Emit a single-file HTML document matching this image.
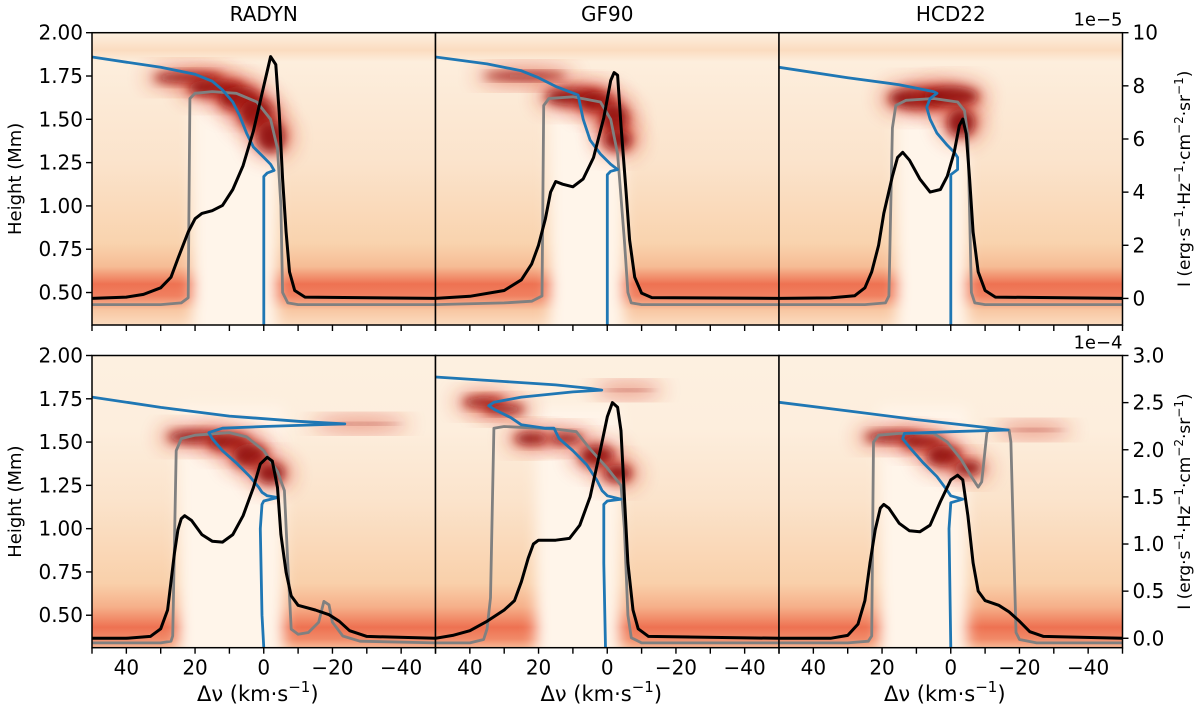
<!DOCTYPE html>
<html><head><meta charset="utf-8"><style>
html,body{margin:0;padding:0;background:#fff;width:1200px;height:711px;overflow:hidden}
svg{font-family:"DejaVu Sans","Liberation Sans",sans-serif}
</style></head><body>
<svg id="fig" width="1200" height="711" viewBox="0 0 1200 711" xmlns="http://www.w3.org/2000/svg">
<defs>
<filter id="blur" x="-50%" y="-50%" width="200%" height="200%"><feGaussianBlur stdDeviation="10"/></filter>
<filter id="blur2" x="-50%" y="-50%" width="200%" height="200%"><feGaussianBlur stdDeviation="5"/></filter>
<filter id="blurc" x="-50%" y="-50%" width="200%" height="200%"><feGaussianBlur stdDeviation="7"/></filter>
<linearGradient id="bgTop" x1="0" y1="0" x2="0" y2="1">
<stop offset="0" stop-color="#fdf0e0"/><stop offset="0.06" stop-color="#fbdcc0"/><stop offset="0.1" stop-color="#fdeedd"/>
<stop offset="0.45" stop-color="#fbe3cb"/><stop offset="0.72" stop-color="#f9d3ae"/><stop offset="0.8" stop-color="#f6bc95"/>
<stop offset="0.86" stop-color="#ee7252"/><stop offset="0.9" stop-color="#f08060"/><stop offset="0.95" stop-color="#f8c7a3"/><stop offset="1" stop-color="#fbdcc0"/>
</linearGradient>
<linearGradient id="bgBot" x1="0" y1="0" x2="0" y2="1">
<stop offset="0" stop-color="#fdf0e0"/><stop offset="0.25" stop-color="#fdeedd"/>
<stop offset="0.5" stop-color="#fbe3cb"/><stop offset="0.78" stop-color="#f9d0aa"/><stop offset="0.86" stop-color="#f6b08a"/>
<stop offset="0.93" stop-color="#ee7252"/><stop offset="0.97" stop-color="#f18a68"/><stop offset="1" stop-color="#f7b895"/>
</linearGradient>
</defs>
</svg>
<script>
// ---- data ----
const titles = ["RADYN","GF90","HCD22"];
const xTicks = [50,40,30,20,10,0,-10,-20,-30,-40,-50];
const xTickLabels = [40,20,0,-20,-40];
const hTicks = [0.50,0.75,1.00,1.25,1.50,1.75,2.00];
const iTicksTop = [0,2,4,6,8,10];
const iTicksBot = [0.0,0.5,1.0,1.5,2.0,2.5,3.0];

// top row: RADYN
const blueT0 = [[50,1.86],[30,1.80],[20,1.76],[15,1.72],[12,1.67],[9,1.60],[7,1.52],[5,1.42],[3,1.34],[0,1.28],[-2,1.24],[-3,1.205],[-1,1.19],[0,1.17],[0,0.31]];
const grayT0 = [[50,0.43],[30,0.43],[24,0.44],[22,0.47],[21.5,1.62],[20,1.65],[15,1.66],[8,1.65],[2,1.6],[-2,1.5],[-4,1.33],[-5,1.0],[-5.5,0.5],[-7,0.44],[-10,0.43],[-50,0.43]];
const blackT0 = [[50,0],[40,0.05],[35,0.15],[30,0.4],[27,0.8],[25,1.5],[22,2.5],[20,3.0],[18,3.2],[15,3.3],[12,3.5],[9,4.1],[6,5.0],[3,6.3],[0,8.0],[-2,9.1],[-3.5,8.8],[-4.5,7],[-5.5,4.5],[-6.5,2.5],[-7.5,1],[-9,0.3],[-12,0.05],[-50,0]];
// top row: GF90
const blueT1 = [[50,1.86],[35,1.82],[25,1.78],[20,1.74],[15,1.69],[8.5,1.64],[7,1.5],[5,1.38],[2,1.3],[-1,1.24],[-3,1.21],[-1,1.2],[0,1.18],[0,0.31]];
const grayT1 = [[50,0.43],[30,0.44],[22,0.45],[19,0.48],[18.5,1.58],[17,1.62],[10,1.63],[2,1.6],[-1,1.5],[-3,1.3],[-5,0.8],[-6,0.5],[-7,0.44],[-10,0.43],[-50,0.43]];
const blackT1 = [[50,0],[40,0.08],[30,0.3],[25,0.7],[22,1.3],[20,2],[18,3],[16.5,4],[15,4.4],[13,4.3],[10,4.2],[7,4.5],[4,5.3],[1,6.8],[-1,8.2],[-2,8.5],[-3,8.4],[-4,6.5],[-5.5,4],[-6.5,2.2],[-8,0.8],[-10,0.2],[-13,0.03],[-50,0]];
// top row: HCD22
const blueT2 = [[50,1.80],[30,1.74],[15,1.70],[5,1.66],[4,1.65],[6,1.62],[7,1.57],[6,1.5],[4,1.42],[1,1.35],[-1,1.31],[-2,1.28],[-2,1.21],[0,1.18],[0,0.31]];
const grayT2 = [[50,0.43],[25,0.43],[19,0.44],[18,0.48],[17,1.45],[16,1.58],[13,1.61],[5,1.62],[-2,1.6],[-4,1.55],[-5,1.4],[-6,0.5],[-7,0.44],[-10,0.43],[-50,0.43]];
const blackT2 = [[50,0],[35,0.02],[28,0.1],[25,0.4],[23,1],[21,2],[19.5,3.2],[17,4.6],[15.5,5.3],[14,5.5],[12,5.2],[9,4.5],[6,4.0],[3,4.1],[1,4.6],[-1,5.5],[-2.5,6.5],[-3.5,6.75],[-4.5,6.2],[-5.5,4.5],[-6.5,2.5],[-8,1],[-10,0.3],[-13,0.05],[-50,0]];
// bottom row: RADYN
const blueB0 = [[50,1.76],[30,1.70],[10,1.65],[-10,1.62],[-23.6,1.605],[0,1.59],[12,1.58],[16,1.555],[15,1.52],[12,1.45],[8,1.38],[4,1.30],[1.5,1.24],[0.5,1.21],[-1,1.19],[-4,1.18],[0,1.16],[0.5,1.14],[1,1.0],[0.5,0.5],[0,0.31]];
const grayB0 = [[50,0.34],[30,0.34],[27,0.35],[26.5,0.38],[25.5,1.45],[24,1.52],[20,1.54],[10,1.555],[5,1.53],[0,1.45],[-4,1.33],[-6,1.22],[-7,0.8],[-8,0.42],[-10,0.39],[-13,0.4],[-16,0.46],[-17.5,0.58],[-19,0.56],[-20,0.46],[-23,0.38],[-28,0.35],[-50,0.34]];
const blackB0 = [[50,0],[40,0],[33,0.02],[30,0.1],[28,0.3],[27,0.6],[26,0.9],[25,1.15],[24,1.27],[23,1.3],[21,1.25],[18,1.1],[15,1.03],[12,1.02],[9,1.1],[6,1.3],[3,1.6],[1,1.85],[-1,1.92],[-2.5,1.88],[-4,1.6],[-5,1.1],[-6.5,0.7],[-8,0.45],[-10,0.35],[-15,0.3],[-19,0.25],[-22,0.18],[-25,0.08],[-30,0.02],[-50,0]];
// bottom row: GF90
const blueB1 = [[50,1.876],[30,1.85],[15,1.83],[5,1.81],[1.6,1.80],[10,1.79],[25,1.76],[33,1.73],[34.5,1.71],[33,1.69],[28,1.64],[25,1.60],[18,1.58],[15.5,1.58],[15,1.56],[14,1.52],[10,1.45],[6,1.37],[3,1.28],[1.5,1.22],[0,1.19],[-4,1.17],[0,1.16],[1,1.14],[1,0.8],[0.5,0.31]];
const grayB1 = [[50,0.34],[40,0.34],[36,0.36],[35,0.42],[34,0.6],[33,1.58],[30,1.59],[15,1.575],[9,1.56],[5,1.46],[0,1.35],[-4,1.25],[-5,1.0],[-6,0.5],[-7,0.37],[-10,0.34],[-50,0.34]];
const blackB1 = [[50,0],[45,0.03],[40,0.08],[35,0.18],[30,0.3],[27,0.4],[25,0.6],[23,0.85],[21.5,1.0],[20,1.04],[15,1.04],[11,1.06],[8,1.2],[5,1.5],[2,2.0],[0,2.35],[-1.5,2.5],[-3,2.45],[-4,2.2],[-5,1.5],[-6,0.8],[-7.5,0.3],[-9,0.1],[-12,0.02],[-50,0]];
// bottom row: HCD22
const blueB2 = [[50,1.73],[30,1.68],[10,1.63],[-10,1.585],[-16.6,1.57],[0,1.56],[13.5,1.55],[14,1.52],[12,1.47],[8,1.38],[4,1.30],[1,1.22],[0,1.19],[-3.5,1.17],[0,1.15],[0.5,1.0],[0,0.31]];
const grayB2 = [[50,0.34],[30,0.34],[24,0.35],[23,0.38],[22.5,1.50],[21,1.54],[15,1.55],[5,1.55],[1,1.50],[-3,1.40],[-6,1.30],[-8,1.24],[-9,1.27],[-10.5,1.55],[-11,1.57],[-17,1.57],[-17.5,1.5],[-19,0.4],[-20,0.36],[-25,0.34],[-50,0.34]];
const blackB2 = [[50,0],[35,0],[30,0.03],[27,0.15],[25,0.4],[23.5,0.8],[22,1.15],[20.5,1.38],[19.5,1.42],[18,1.38],[15,1.22],[12,1.14],[9,1.13],[6,1.2],[3,1.45],[0,1.68],[-2,1.73],[-3.5,1.68],[-5,1.3],[-6.5,0.8],[-8,0.5],[-10,0.4],[-14,0.35],[-17,0.28],[-20,0.18],[-23,0.07],[-27,0.02],[-50,0]];

// heatmap features: [dv, h, rx(km/s), ry(Mm)]
const blobsT0 = [[22,1.74,10,0.03],[14,1.68,8,0.05],[7,1.62,6,0.07],[2,1.53,5,0.09],[-2,1.40,4,0.09]];
const blobsT1 = [[24,1.75,12,0.02],[10,1.63,8,0.05],[3,1.6,5,0.06],[-2,1.5,4,0.09],[-3,1.38,4,0.06]];
const blobsT2 = [[10,1.62,8,0.06],[0,1.63,8,0.06],[-3,1.48,4,0.08]];
const blobsB0 = [[20,1.53,8,0.035],[10,1.5,6,0.05],[4,1.42,5,0.07],[-2,1.32,4,0.06],[-28,1.605,12,0.006]];
const blobsB1 = [[36,1.73,6,0.03],[30,1.69,6,0.025],[22,1.52,5,0.035],[12,1.52,5,0.03],[3,1.42,5,0.06],[-3,1.32,4,0.05],[-6,1.8,8,0.006]];
const blobsB2 = [[17,1.53,8,0.03],[8,1.5,6,0.04],[2,1.42,5,0.06],[-5,1.35,4,0.04],[-24,1.57,9,0.006]];
// central clear column [left dv, right dv]
const colT = [[22,-5],[18,-6],[17,-6]];
const colB = [[26,-7],[22,-5],[22,-6]];

const rows = [
 {top:32.7,bot:325.0,imax:10,imin:-1,iticks:iTicksTop,exp:"1e\u22125",grad:"bgTop",blue:[blueT0,blueT1,blueT2],gray:[grayT0,grayT1,grayT2],black:[blackT0,blackT1,blackT2],blobs:[blobsT0,blobsT1,blobsT2],col:colT},
 {top:355.5,bot:647.7,imax:3.0,imin:-0.1,iticks:iTicksBot,exp:"1e\u22124",grad:"bgBot",blue:[blueB0,blueB1,blueB2],gray:[grayB0,grayB1,grayB2],black:[blackB0,blackB1,blackB2],blobs:[blobsB0,blobsB1,blobsB2],col:colB}
];
const panelX = [92,435.5,779,1122.5];
const H_MIN = 0.3125, H_MAX = 2.0;

const svg = document.getElementById('fig');
const NS = "http://www.w3.org/2000/svg";
function mk(tag, attrs, parent){const e=document.createElementNS(NS,tag);for(const k in attrs)e.setAttribute(k,attrs[k]);(parent||svg).appendChild(e);return e;}
function txt(s, attrs, parent){const e=mk('text',attrs,parent);e.textContent=s;return e;}

rows.forEach((row,ri)=>{
  const yH = h => row.top + (H_MAX-h)/(H_MAX-H_MIN)*(row.bot-row.top);
  const yI = v => row.top + (row.imax-v)/(row.imax-row.imin)*(row.bot-row.top);
  for(let p=0;p<3;p++){
    const x0=panelX[p], x1=panelX[p+1];
    const xV = v => x0 + (50-v)/100*(x1-x0);
    const g = mk('g',{});
    
    
    const cid='clip'+ri+p;
    const cp=mk('clipPath',{id:cid},g); mk('rect',{x:x0,y:row.top,width:x1-x0,height:row.bot-row.top},cp);
    const hm=mk('g',{'clip-path':'url(#'+cid+')'},g);
    
    
    mk('rect',{x:x0,y:row.top,width:x1-x0,height:row.bot-row.top,fill:'url(#'+row.grad+')'},hm);
    const c=row.col[p];
    const cr=mk('rect',{x:xV(c[0])+4,y:yH(1.7),width:xV(c[1])-xV(c[0])-8,height:row.bot-yH(1.7)+20,fill:'#fff5ea',filter:'url(#blurc)'},hm);
    
    
    row.blobs[p].forEach(b=>{
      const e1=mk('ellipse',{cx:xV(b[0]),cy:yH(b[1]),rx:b[2]*(x1-x0)/100+8,ry:b[3]*(row.bot-row.top)/(H_MAX-H_MIN)+5,fill:'#d7301f',opacity:0.6,filter:'url(#blur)'},hm);
      
      
      const e2=mk('ellipse',{cx:xV(b[0]),cy:yH(b[1]),rx:b[2]*(x1-x0)/100,ry:b[3]*(row.bot-row.top)/(H_MAX-H_MIN),fill:'#8c0d0d',opacity:0.9,filter:'url(#blur2)'},hm);
      
      
    });
    const lines=mk('g',{'clip-path':'url(#'+cid+')',fill:'none','stroke-linejoin':'round'},g);
    const pth=(arr,fy)=>arr.map((q,i)=>(i?'L':'M')+xV(q[0]).toFixed(1)+','+fy(q[1]).toFixed(1)).join('');
    const gl=mk('path',{d:pth(row.gray[p],yH),stroke:'#808080','stroke-width':2.8},lines);
    
    
    const bl=mk('path',{d:pth(row.blue[p],yH),stroke:'#1f77b4','stroke-width':2.8},lines);
    
    
    const kl=mk('path',{d:pth(row.black[p],yI),stroke:'#000','stroke-width':3},lines);
    
    
    mk('rect',{x:x0,y:row.top,width:x1-x0,height:row.bot-row.top,fill:'none',stroke:'#000','stroke-width':1.5},g);
    xTicks.forEach(t=>{mk('line',{x1:xV(t),x2:xV(t),y1:row.bot,y2:row.bot+6,stroke:'#000','stroke-width':1.4},g);});
    if(ri===1){
      xTickLabels.forEach(t=>{
        const tl=txt(t<0?'\u2212'+(-t):String(t),{x:xV(t),y:row.bot+27,'text-anchor':'middle','font-size':20},g);
        
        
      });
      const xl=txt('\u0394\u03bd (km\u00b7s',{x:(x0+x1)/2-6,y:701,'text-anchor':'middle','font-size':21},g);
      const sp=mk('tspan',{dy:-9,'font-size':15},xl); sp.textContent='\u22121';
      const sp2=mk('tspan',{dy:9},xl); sp2.textContent=')';
      
      
    } else {
      const tt=txt(titles[p],{x:(x0+x1)/2,y:21,'text-anchor':'middle','font-size':20},g);
      
      
    }
    if(p===0){
      hTicks.forEach(h=>{
        mk('line',{x1:x0-6,x2:x0,y1:yH(h),y2:yH(h),stroke:'#000','stroke-width':1.4},g);
        const hl=txt(h.toFixed(2),{x:x0-9,y:yH(h)+7,'text-anchor':'end','font-size':20},g);
        
        
      });
      const yt=txt('Height (Mm)',{x:0,y:0,'text-anchor':'middle','font-size':18,transform:'translate(21,'+((row.top+row.bot)/2)+') rotate(-90)'},g);
      
      
    }
    if(p===2){
      row.iticks.forEach(v=>{
        mk('line',{x1:x1,x2:x1+6,y1:yI(v),y2:yI(v),stroke:'#000','stroke-width':1.4},g);
        const il=txt(ri===0?String(v):v.toFixed(1),{x:x1+10,y:yI(v)+7,'text-anchor':'start','font-size':20},g);
        
        
      });
      const ex=txt(row.exp,{x:x1,y:row.top-7,'text-anchor':'end','font-size':18},g);
      
      
      const rl=txt('',{x:0,y:0,'text-anchor':'middle','font-size':17,transform:'translate(1190,'+((row.top+row.bot)/2)+') rotate(-90)'},g);
      const parts=[['I (erg\u00b7s',0],['\u22121',-7],['\u00b7Hz',7],['\u22121',-7],['\u00b7cm',7],['\u22122',-7],['\u00b7sr',7],['\u22121',-7],[')',7]];
      parts.forEach(pp=>{const s=mk('tspan',{dy:pp[1]},rl); if(pp[1]<0) s.setAttribute('font-size',12); s.textContent=pp[0];});
      
      
    }
  }
});
</script>
</body></html>
